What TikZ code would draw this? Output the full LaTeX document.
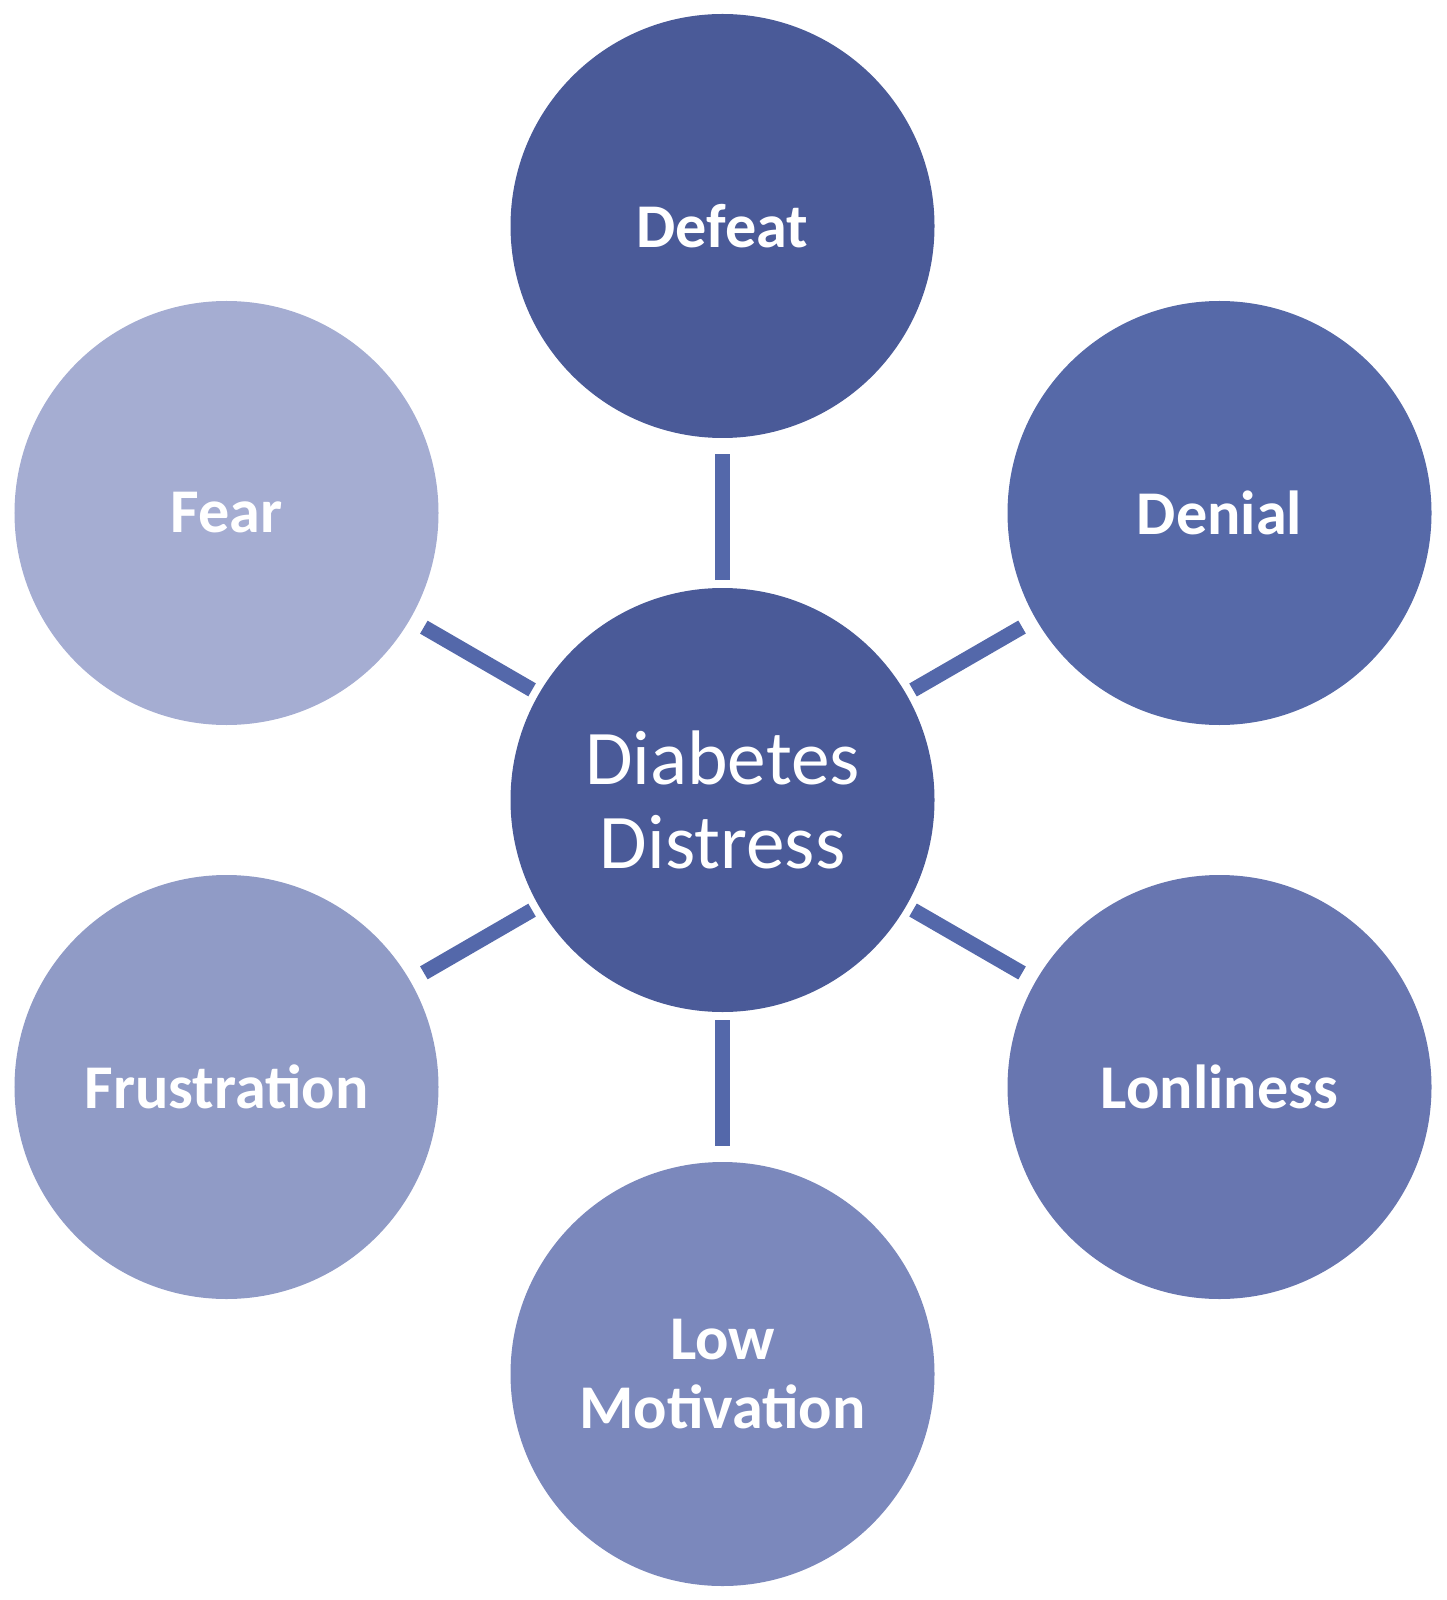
\documentclass[tikz,border=0pt]{standalone}
\usepackage{fontspec}
\setmainfont{Carlito}
\definecolor{defeatc}{HTML}{4A5A98}
\definecolor{denialc}{HTML}{5669A8}
\definecolor{lonelyc}{HTML}{6876B0}
\definecolor{lowc}{HTML}{7B88BC}
\definecolor{frustc}{HTML}{909BC6}
\definecolor{fearc}{HTML}{A5ADD2}
\definecolor{linkc}{HTML}{5468AA}
\tikzset{
  feeling/.style={shape=circle,minimum size=4.24cm,inner sep=0pt,outer sep=0pt,
    text=white,align=center,font=\fontsize{17.7}{19.4}\selectfont\bfseries},
  link/.style={draw=linkc,line width=0.15cm,shorten <=0.08cm,shorten >=0.16cm}
}
\begin{document}
\begin{tikzpicture}
      \useasboundingbox (0,0) rectangle (14.46,-16);
      \node[feeling,fill=defeatc,font=\fontsize{22}{24}\selectfont] (DD) at (7.225,-8.00) {Diabetes\\Distress};
      \node[feeling,fill=defeatc] (Def) at (7.225,-2.26) {Defeat};
      \node[feeling,fill=denialc] (Den) at (12.195,-5.13) {Denial};
      \node[feeling,fill=lonelyc] (Lon) at (12.195,-10.87) {Lonliness};
      \node[feeling,fill=lowc] (Low) at (7.225,-13.74) {Low\\Motivation};
      \node[feeling,fill=frustc] (Fru) at (2.265,-10.87) {Frustration};
      \node[feeling,fill=fearc] (Fea) at (2.265,-5.13) {Fear};
      \path[link]
      (DD) edge (Def)
      (DD) edge (Den)
      (DD) edge (Lon)
      (DD) edge (Low)
      (DD) edge (Fru)
      (DD) edge (Fea);
\end{tikzpicture}
\end{document}
